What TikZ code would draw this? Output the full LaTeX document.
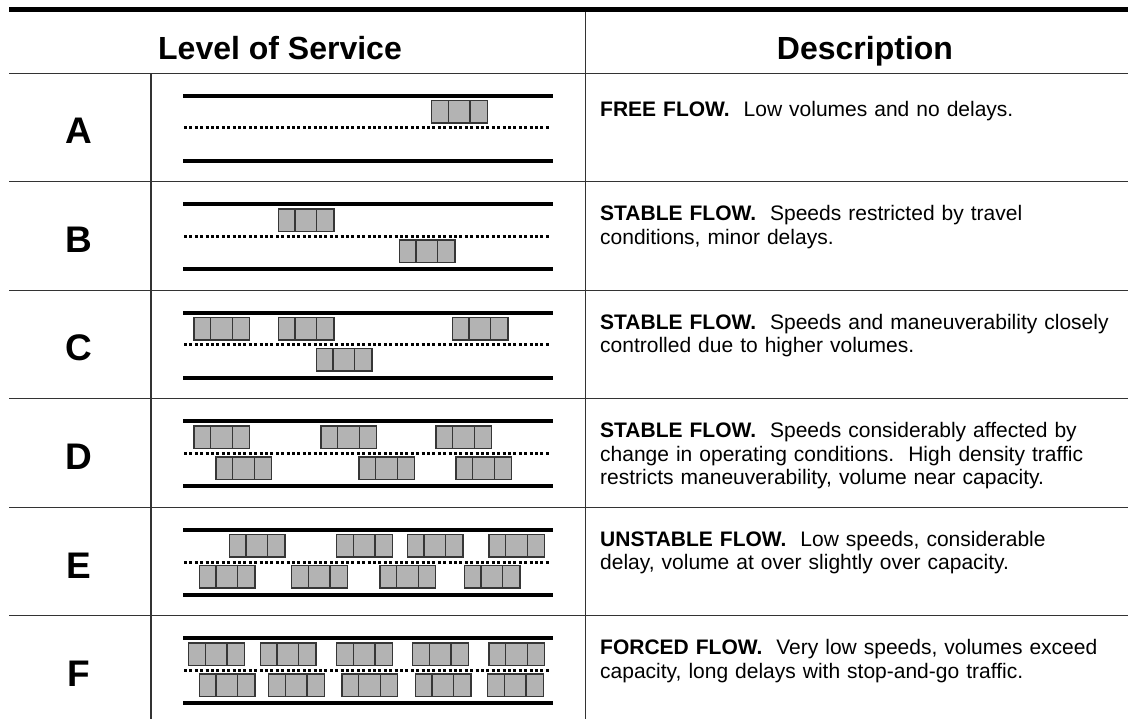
\documentclass[tikz,border=0pt]{standalone}
\usepackage{fontspec}
\setmainfont{Liberation Sans}
\definecolor{gridgray}{HTML}{333333}
\definecolor{carfill}{HTML}{B3B3B3}
\definecolor{caredge}{HTML}{363636}
\tikzset{
  gridline/.style={gridgray,line width=1.3pt},
  kerb/.style={line width=3.7pt},
  lanemark/.style={line width=3pt,dash pattern=on 3pt off 2.4pt},
  headtext/.style={font=\fontsize{32}{36}\selectfont\bfseries,inner sep=0pt,anchor=base},
  lvltext/.style={font=\fontsize{37}{40}\selectfont\bfseries,inner sep=0pt,anchor=base},
  desctext/.style={font=\fontsize{21}{23.5}\selectfont,inner sep=0pt,anchor=base west,
    align=left,text width=528pt},
  car/.pic={
    \draw[caredge,fill=carfill,line width=1.5pt] (0,0) rectangle (55.6,22.6);
    \draw[caredge,line width=1.5pt] (16.6,0) -- (16.6,22.6) (38.3,0) -- (38.3,22.6);
  }
}

\begin{document}
\begin{tikzpicture}[x=1pt,y=-1pt]
    \useasboundingbox (0,0) rectangle (1128,719);
    \draw[line width=4.7pt] (9,9.7) -- (1128,9.7);
    \draw[gridline] (9,73.3) -- (1128,73.3);
    \draw[gridline] (151,73.3) -- (151,719);
    \draw[gridline] (585.7,12) -- (585.7,719);
    \foreach \i in {1,...,5}
      \draw[gridline] (9,73.3+108.5*\i) -- (1128,73.3+108.5*\i);

    \node[headtext] (hdlos) at (280,59.3) {Level of Service};
    \node[headtext] (hddesc) at (865,59.3) {Description};

    \foreach \lvl/\dy/\txt [count=\i from 0] in {
      A/43/{\textbf{FREE FLOW.}\ \ Low volumes and no delays.},
      B/39/{\textbf{STABLE FLOW.}\ \ Speeds restricted by travel\\conditions, minor delays.},
      C/39/{\textbf{STABLE FLOW.}\ \ Speeds and maneuverability closely\\controlled due to higher volumes.},
      D/39/{\textbf{STABLE FLOW.}\ \ Speeds considerably affected by\\change in operating conditions.\ \ High density traffic\\restricts maneuverability, volume near capacity.},
      E/39/{\textbf{UNSTABLE FLOW.}\ \ Low speeds, considerable\\delay, volume at over slightly over capacity.},
      F/39/{\textbf{FORCED FLOW.}\ \ Very low speeds, volumes exceed\\capacity, long delays with stop-and-go traffic.}} {
      \pgfmathsetmacro\rt{73.3+108.5*\i}
      \node[lvltext] (lvl\lvl) at (79,\rt+70.7) {\lvl};
      \draw[kerb] (183,\rt+22.4) -- (553,\rt+22.4);
      \draw[lanemark] (184,\rt+54.7) -- (551,\rt+54.7);
      \draw[kerb] (183,\rt+87.4) -- (553,\rt+87.4);
      \node[desctext] (desc\lvl) at (600,\rt+\dy) {\txt};
    }

    \foreach \cx in {431.7} \pic at (\cx,100.5) {car};
    \foreach \cx in {278.3} \pic at (\cx,209) {car};
    \foreach \cx in {399.3} \pic at (\cx,239.8) {car};
    \foreach \cx in {194,278.3,452.3} \pic at (\cx,317.5) {car};
    \foreach \cx in {316.3} \pic at (\cx,348.3) {car};
    \foreach \cx in {194,321,436} \pic at (\cx,426) {car};
    \foreach \cx in {216,359,456} \pic at (\cx,456.8) {car};
    \foreach \cx in {229.3,336.7,407.3,489} \pic at (\cx,534.5) {car};
    \foreach \cx in {199.3,291.7,380,464.3} \pic at (\cx,565.3) {car};
    \foreach \cx in {188.7,260.3,336.7,412.7,489} \pic at (\cx,643) {car};
    \foreach \cx in {199.3,268.7,342,415.3,487.7} \pic at (\cx,673.8) {car};
\end{tikzpicture}
\end{document}
